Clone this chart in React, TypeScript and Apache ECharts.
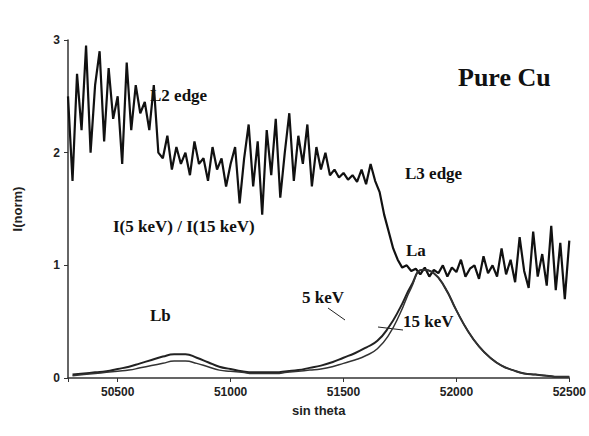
import React, { useEffect, useRef } from "react";
import * as echarts from "echarts";

const ratioX0 = 50280;
const ratioStep = 20;
const ratioValues = [
  2.5, 1.75, 2.7, 2.2, 2.95, 2.0, 2.6, 2.9, 2.1, 2.75, 2.3, 2.5, 1.9, 2.8, 2.2, 2.6, 2.35, 2.45, 2.2,
  2.6, 2.0, 1.95, 2.15, 1.85, 2.05, 1.9, 2.0, 1.8, 2.1, 1.9, 1.95, 1.75, 2.05, 1.85, 1.95, 1.7, 1.9,
  2.05, 1.55, 1.95, 2.25, 1.7, 2.1, 1.45, 2.2, 1.8, 2.3, 1.6, 2.0, 2.35, 1.75, 2.15, 1.9, 2.25, 1.7, 2.05, 1.85, 2.0, 1.8,
  1.85, 1.78, 1.82, 1.76, 1.8, 1.74, 1.85, 1.72, 1.9, 1.75,
  1.65, 1.45, 1.3, 1.15, 1.05, 0.98, 1.0,
  0.95, 0.97, 0.92, 0.98, 0.9, 0.96, 0.93, 1.0, 0.9, 0.98, 0.94, 1.05, 0.9, 0.97, 1.0, 0.88, 1.08, 0.93,
  1.0, 0.9, 1.15, 0.92, 1.05, 0.85, 1.25, 0.95, 0.8, 1.3, 0.9, 1.1, 0.82, 1.35, 0.78, 1.2, 0.7, 1.22,
];
const peakX0 = 50300;
const peakStep = 50;
const kev5 = [
  0.03, 0.04, 0.05, 0.06, 0.08, 0.1, 0.13, 0.16, 0.19, 0.21, 0.21, 0.18, 0.14, 0.1, 0.08,
  0.06, 0.05, 0.05, 0.05, 0.06, 0.07, 0.09, 0.11, 0.14, 0.18, 0.22, 0.27, 0.33, 0.45, 0.62,
  0.82, 0.96, 0.93, 0.8, 0.6, 0.42, 0.28, 0.18, 0.11, 0.07, 0.04, 0.03, 0.02, 0.01, 0.01,
];
const kev15 = [
  0.02, 0.03, 0.04, 0.05, 0.06, 0.07, 0.09, 0.11, 0.13, 0.15, 0.15, 0.13, 0.1, 0.07, 0.06,
  0.05, 0.04, 0.04, 0.04, 0.05, 0.06, 0.07, 0.08, 0.1, 0.13, 0.16, 0.2, 0.26, 0.38, 0.57,
  0.8, 0.96, 0.93, 0.8, 0.6, 0.42, 0.28, 0.18, 0.11, 0.07, 0.04, 0.03, 0.02, 0.01, 0.01,
];
const xTicks = [50500, 51000, 51500, 52000, 52500];

export default function App() {
  const ref = useRef<HTMLDivElement>(null);
  useEffect(() => {
    document.body.style.margin = "0";
    const chart = echarts.init(ref.current!, null, { renderer: "svg" });
    const serif = "Liberation Serif";
    const t = (x: number, y: number, text: string, size = 17) => ({
      type: "text", left: x, top: y,
      style: { text, font: `bold ${size}px "${serif}"`, fill: "#111" },
    });
    chart.setOption({
      animation: false,
      backgroundColor: "#fff",
      grid: { left: 68, right: 11, top: 40, bottom: 58 },
      xAxis: {
        type: "value", min: 50280, max: 52500,
        name: "sin theta", nameLocation: "middle", nameGap: 26,
        nameTextStyle: { fontFamily: "Liberation Sans", fontWeight: "bold", fontSize: 13, color: "#222" },
        axisLine: { lineStyle: { color: "#333", width: 1.5 } },
        axisTick: { show: true, length: 4, lineStyle: { color: "#333" } },
        axisLabel: {
          fontFamily: "Liberation Sans", fontWeight: "bold", fontSize: 12, color: "#222",
          customValues: xTicks, formatter: (v: number) => String(v),
        },
        splitLine: { show: false },
      },
      yAxis: {
        type: "value", min: 0, max: 3, interval: 1,
        name: "I(norm)", nameLocation: "middle", nameGap: 44,
        nameTextStyle: { fontFamily: "Liberation Sans", fontWeight: "bold", fontSize: 13, color: "#222" },
        axisLine: { show: true, lineStyle: { color: "#333", width: 1.5 } },
        axisTick: { show: true, length: 4, lineStyle: { color: "#333" } },
        axisLabel: { fontFamily: "Liberation Sans", fontWeight: "bold", fontSize: 12, color: "#222" },
        splitLine: { show: false },
      },
      series: [
        {
          type: "line", showSymbol: false,
          data: ratioValues.map((v, i) => [ratioX0 + i * ratioStep, v]),
          lineStyle: { color: "#111", width: 2.2 },
        },
        {
          type: "line", showSymbol: false, smooth: true,
          data: kev5.map((v, i) => [peakX0 + i * peakStep, v]),
          lineStyle: { color: "#222", width: 2 },
        },
        {
          type: "line", showSymbol: false, smooth: true,
          data: kev15.map((v, i) => [peakX0 + i * peakStep, v]),
          lineStyle: { color: "#333", width: 1.5 },
        },
      ],
      graphic: [
        t(458, 64, "Pure Cu", 26),
        t(150, 87, "L2 edge"),
        t(405, 165, "L3 edge"),
        t(113, 218, "I(5 keV) / I(15 keV)"),
        t(406, 242, "La"),
        t(150, 307, "Lb"),
        t(302, 289, "5 keV"),
        t(403, 313, "15 keV"),
        { type: "line", shape: { x1: 328, y1: 308, x2: 345, y2: 320 }, style: { stroke: "#222", lineWidth: 1 } },
        { type: "line", shape: { x1: 403, y1: 330, x2: 378, y2: 327 }, style: { stroke: "#222", lineWidth: 1 } },
      ],
    });
    return () => chart.dispose();
  }, []);
  return <div ref={ref} style={{ width: 589, height: 436 }} />;
}
